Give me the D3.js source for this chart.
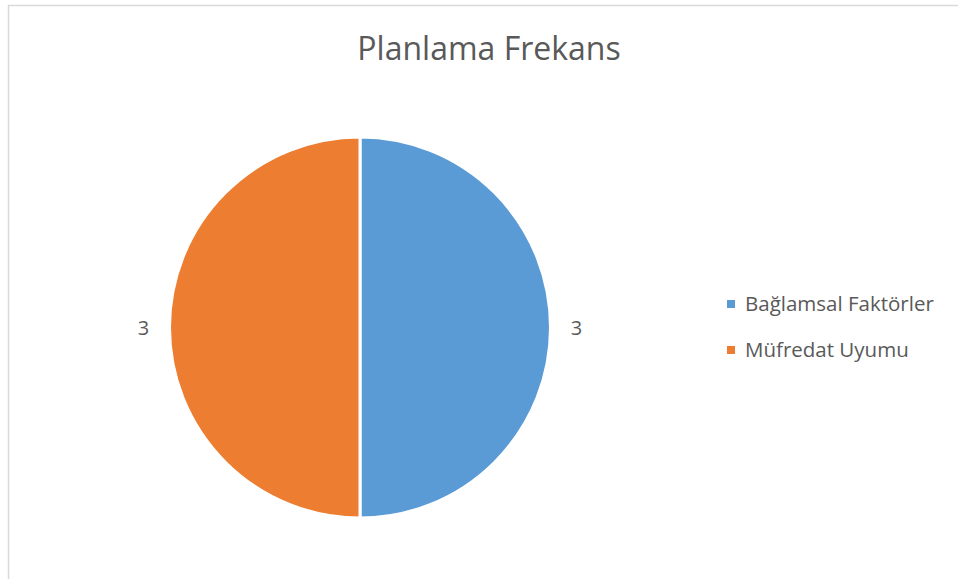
<!DOCTYPE html>
<html lang="tr">
<head>
    <meta charset="UTF-8">
    <title>Planlama Frekans</title>
    <script src="https://d3js.org/d3.v7.min.js"></script>
    <style>
        body { margin: 0; background: #fff; }
        text { font-family: "Open Sans", "Noto Sans", sans-serif; fill: #595959; }
    </style>
</head>
<body>
<div id="chart"></div>

<script>
    // veriler
    var categories = ["Bağlamsal Faktörler", "Müfredat Uyumu"];
    var values = [3, 3];
    var colors = ["#5B9BD5", "#ED7D31"];
    var title = "Planlama Frekans";

    var width = 958, height = 579;
    var cx = 360, cy = 327.5, radius = 190.5;

    var svg = d3.select("#chart").append("svg")
                .attr("width", width)
                .attr("height", height);

    // çerçeve
    svg.append("rect")
       .attr("x", 8.5).attr("y", 5.5)
       .attr("width", 980).attr("height", 600)
       .attr("fill", "none")
       .attr("stroke", "#D9D9D9")
       .attr("stroke-width", 1.5);

    svg.append("text")
       .attr("x", 489).attr("y", 60)
       .attr("text-anchor", "middle")
       .style("font-size", "32px")
       .text(title);

    var data = categories.map(function(c, i) { return { name: c, value: values[i] }; });

    var pie = d3.pie().sort(null).value(d => d.value);
    var arc = d3.arc().innerRadius(0).outerRadius(radius);
    var arcs = pie(data);

    var g = svg.append("g").attr("transform", "translate(" + cx + "," + cy + ")");

    g.selectAll("path")
     .data(arcs)
     .enter().append("path")
     .attr("d", arc)
     .attr("fill", (d, i) => colors[i])
     .attr("stroke", "#fff")
     .attr("stroke-width", 3);

    // etiketler dilimlerin dışında
    var labelArc = d3.arc().innerRadius(radius + 26).outerRadius(radius + 26);
    g.selectAll(".lbl")
     .data(arcs)
     .enter().append("text")
     .attr("class", "lbl")
     .attr("transform", d => "translate(" + labelArc.centroid(d) + ")")
     .attr("text-anchor", "middle")
     .attr("dy", "0.35em")
     .style("font-size", "20px")
     .text(d => d.data.value);

    // lejant
    var legend = svg.append("g").attr("transform", "translate(727,304)");
    var item = legend.selectAll("g")
                     .data(categories)
                     .enter().append("g")
                     .attr("transform", (d, i) => "translate(0," + (i * 46) + ")");
    item.append("rect")
        .attr("x", 0).attr("y", -4)
        .attr("width", 8).attr("height", 8)
        .attr("fill", (d, i) => colors[i]);
    item.append("text")
        .attr("x", 18).attr("dy", "0.36em")
        .style("font-size", "20.5px")
        .text(d => d);
</script>
</body>
</html>
